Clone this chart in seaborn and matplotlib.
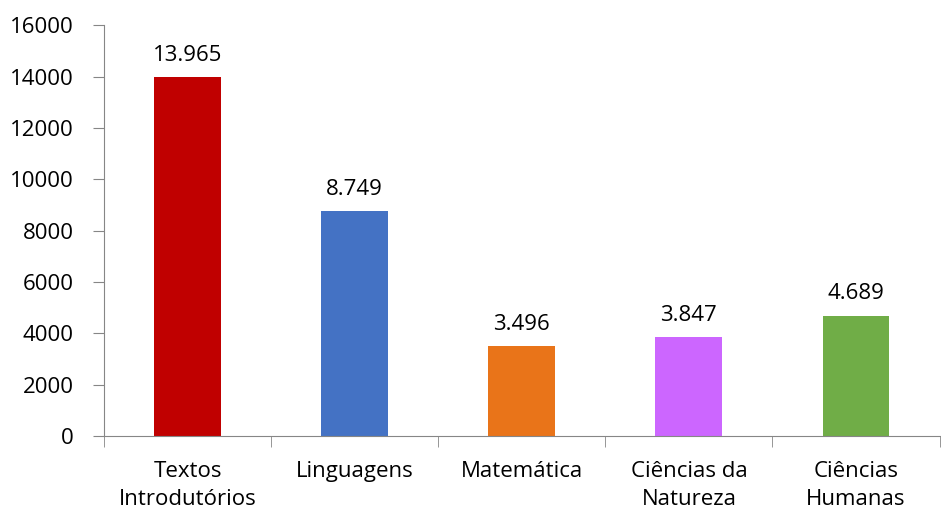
import numpy as np
import pandas as pd
import seaborn as sns
from matplotlib import pyplot as plt

# Data
categories = ["Textos\nIntrodutórios", "Linguagens", "Matemática",
              "Ciências da\nNatureza", "Ciências\nHumanas"]
values = [13965, 8749, 3496, 3847, 4689]
labels = ["13.965", "8.749", "3.496", "3.847", "4.689"]
colors = ["#C00000", "#4472C4", "#E97419", "#CC66FF", "#70AD47"]

sns.set_style("white")
plt.rcParams['font.family'] = ['Open Sans', 'DejaVu Sans']
plt.rcParams['text.color'] = 'black'
plt.rcParams['xtick.color'] = 'black'
plt.rcParams['ytick.color'] = 'black'

df = pd.DataFrame({"cat": categories, "val": values})

fig = plt.figure(figsize=(9.41, 5.13), dpi=100)
ax = fig.add_axes([0.1105, 0.150, 0.888, 0.801])
sns.barplot(data=df, x="cat", y="val", hue="cat", palette=colors,
            width=0.4, saturation=1, legend=False, linewidth=0, ax=ax)

font = 16
for i, (v, t) in enumerate(zip(values, labels)):
    ax.text(i, v + 450, t, ha="center", va="bottom", fontsize=font)

ax.set_xlim(-0.5, 4.5)
ax.set_ylim(0, 16000)
ax.set_yticks(np.arange(0, 16001, 2000))
ax.set_xlabel("")
ax.set_ylabel("")

gray = "#868686"
for s in ["top", "right"]:
    ax.spines[s].set_visible(False)
ax.spines["left"].set_color(gray)
ax.spines["bottom"].set_color(gray)

ax.tick_params(axis="y", which="major", length=8, color=gray, labelsize=font,
               left=True, pad=14)
ax.tick_params(axis="x", which="major", length=0, labelsize=font, pad=18)
for lbl in ax.get_xticklabels():
    lbl.set_linespacing(1.45)
ax.set_xticks(np.arange(-0.5, 4.6, 1), minor=True)
ax.tick_params(axis="x", which="minor", length=8, color=gray, bottom=True)

plt.savefig("out.png", dpi=100)
